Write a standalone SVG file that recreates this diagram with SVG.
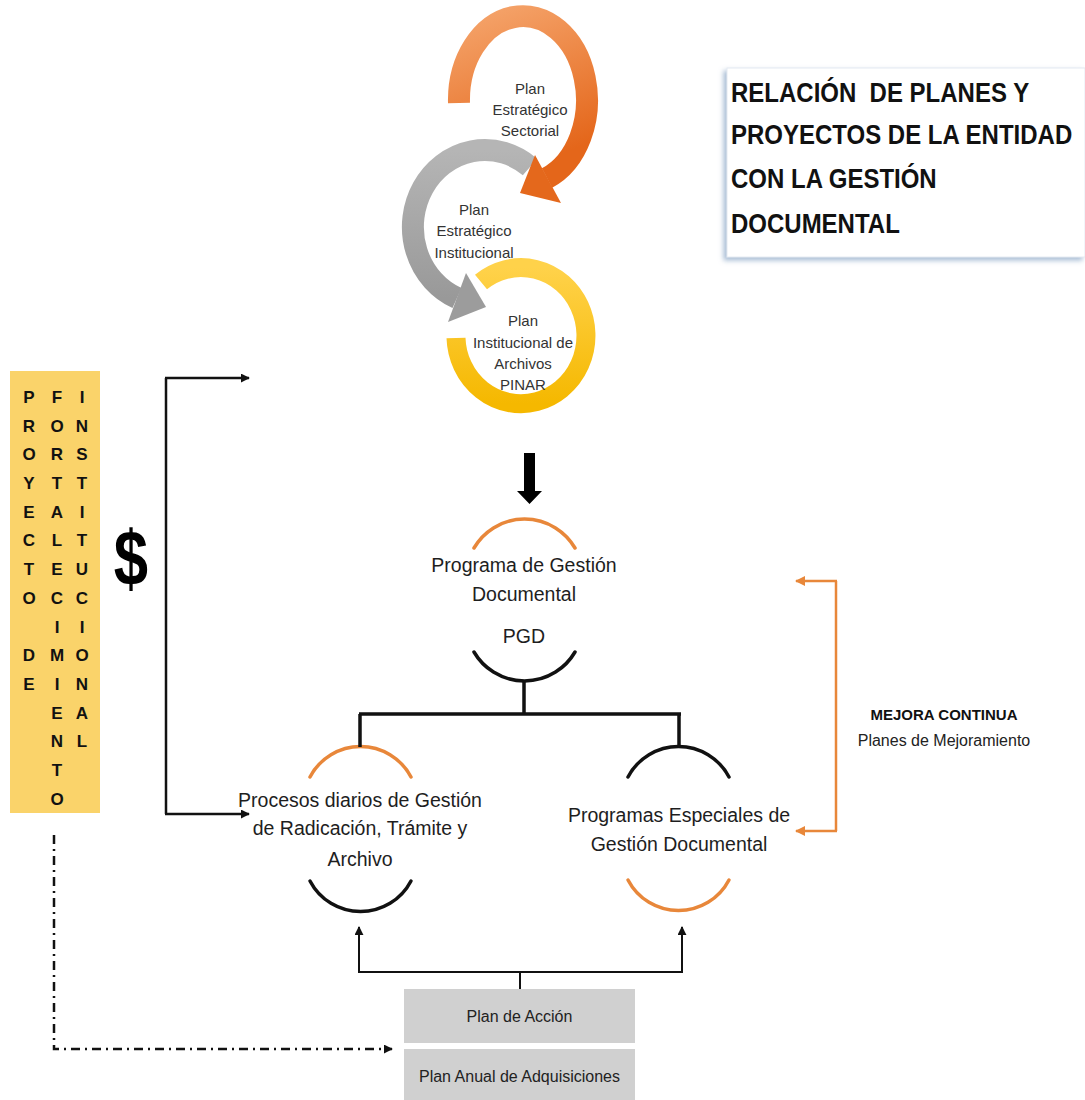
<svg xmlns="http://www.w3.org/2000/svg" width="1085" height="1100" viewBox="0 0 1085 1100">
<defs>
<style>
text{font-family:"Liberation Sans",Arial,sans-serif;fill:#1e1e1e}
.lbl{font-size:19.5px;text-anchor:middle}
.cir{font-size:15px;text-anchor:middle;fill:#333}
.ttl{font-size:24px;font-weight:bold;fill:#111}
.vl{font-size:17px;font-weight:bold;text-anchor:middle;fill:#111}
.box{font-size:16px;text-anchor:middle;fill:#222}
.arcO{fill:none;stroke:#E8873A;stroke-width:3.5;stroke-linecap:round}
.arcK{fill:none;stroke:#111;stroke-width:3.5;stroke-linecap:round}
.ln{fill:none;stroke:#111;stroke-width:3.5}
.thin{fill:none;stroke:#111;stroke-width:2}
.or{fill:none;stroke:#E8873A;stroke-width:2.5}
</style>
<linearGradient id="gO" x1="0" y1="0" x2="0.3" y2="1">
<stop offset="0" stop-color="#F5A46B"/><stop offset="1" stop-color="#E4661A"/>
</linearGradient>
<linearGradient id="gG" x1="0" y1="0" x2="0" y2="1">
<stop offset="0" stop-color="#B5B5B5"/><stop offset="1" stop-color="#999"/>
</linearGradient>
<linearGradient id="gY" x1="0" y1="0" x2="0" y2="1">
<stop offset="0" stop-color="#FFD24A"/><stop offset="1" stop-color="#F5B800"/>
</linearGradient>
<marker id="ak" viewBox="0 0 10 10" refX="9" refY="5" markerWidth="9" markerHeight="9" markerUnits="userSpaceOnUse" orient="auto"><path d="M0,0 L10,5 L0,10 z" fill="#111"/></marker>
<marker id="ao" viewBox="0 0 10 10" refX="9" refY="5" markerWidth="10" markerHeight="10" markerUnits="userSpaceOnUse" orient="auto"><path d="M0,0 L10,5 L0,10 z" fill="#E8873A"/></marker>
<filter id="sh" x="-10%" y="-10%" width="120%" height="120%"><feDropShadow dx="-3" dy="3" stdDeviation="2.5" flood-color="#9FB6D0" flood-opacity="0.9"/></filter>
</defs>
<rect width="1085" height="1100" fill="#fff"/>

<g id="title">
<rect x="727" y="68" width="358" height="189" fill="#fff" stroke="#E4EAF2" stroke-width="1" filter="url(#sh)"/>
<text class="ttl" transform="translate(731,101.5) scale(1,1.12)">RELACIÓN&#160; DE PLANES Y</text>
<text class="ttl" transform="translate(731,143.5) scale(1,1.12)">PROYECTOS DE LA ENTIDAD</text>
<text class="ttl" transform="translate(731,187.5) scale(1,1.12)">CON LA GESTIÓN</text>
<text class="ttl" transform="translate(731,232.5) scale(1,1.12)">DOCUMENTAL</text>
</g>

<g id="pinar">
<path d="M481,282 A65,68 0 1 1 456,338" fill="none" stroke="url(#gY)" stroke-width="19"/>
<text class="cir" x="523" y="326">Plan</text>
<text class="cir" x="523" y="348">Institucional de</text>
<text class="cir" x="523" y="369">Archivos</text>
<text class="cir" x="523" y="390">PINAR</text>
</g>

<g id="pei">
<path d="M530,167 A72,77 0 1 0 457,298" fill="none" stroke="url(#gG)" stroke-width="22"/>
<polygon points="466,273 448,322 486,307" fill="#9c9c9c"/>
<text class="cir" x="474" y="215">Plan</text>
<text class="cir" x="474" y="236">Estratégico</text>
<text class="cir" x="474" y="258">Institucional</text>
</g>

<g id="pes">
<path d="M459,103 A64,84 0 1 1 547,178" fill="none" stroke="url(#gO)" stroke-width="22"/>
<polygon points="535,155 561,203 520,193" fill="#E4681C"/>
<text class="cir" x="530" y="94">Plan</text>
<text class="cir" x="530" y="115">Estratégico</text>
<text class="cir" x="530" y="136">Sectorial</text>
</g>

<g id="bigarrow">
<polygon points="524,453 535,453 535,491 542,491 529.5,504 517,491 524,491" fill="#000"/>
</g>

<g id="pgd">
<path class="arcO" d="M474,548 A58.5,58.5 0 0 1 575,548"/>
<text class="lbl" x="524" y="572">Programa de Gestión</text>
<text class="lbl" x="524" y="601">Documental</text>
<text class="lbl" x="524" y="643">PGD</text>
<path class="arcK" d="M474,652 A58.5,58.5 0 0 0 575,652"/>
</g>

<g id="procesos">
<path class="arcO" d="M310,777 A57,57 0 0 1 411,777"/>
<text class="lbl" x="360" y="807">Procesos diarios de Gestión</text>
<text class="lbl" x="360" y="835">de Radicación, Trámite y</text>
<text class="lbl" x="360" y="866">Archivo</text>
<path class="arcK" d="M310,881 A57,57 0 0 0 411,881"/>
</g>

<g id="especiales">
<path class="arcK" d="M628,777 A57,57 0 0 1 729,777"/>
<text class="lbl" x="679" y="822">Programas Especiales de</text>
<text class="lbl" x="679" y="851">Gestión Documental</text>
<path class="arcO" d="M628,880 A57,57 0 0 0 729,880"/>
</g>

<g id="mejora">
<text x="944" y="720" style="font-size:15px;font-weight:bold;text-anchor:middle;fill:#111">MEJORA CONTINUA</text>
<text x="944" y="746" style="font-size:16px;text-anchor:middle;fill:#222">Planes de Mejoramiento</text>
</g>

<g id="proyecto">
<rect x="10" y="371" width="90" height="442" fill="#FAD36A"/>
<text class="vl"><tspan x="29" y="403">P</tspan><tspan x="29" y="432">R</tspan><tspan x="29" y="460">O</tspan><tspan x="29" y="489">Y</tspan><tspan x="29" y="518">E</tspan><tspan x="29" y="546">C</tspan><tspan x="29" y="575">T</tspan><tspan x="29" y="604">O</tspan><tspan x="29" y="661">D</tspan><tspan x="29" y="690">E</tspan></text>
<text class="vl"><tspan x="57" y="403">F</tspan><tspan x="57" y="432">O</tspan><tspan x="57" y="460">R</tspan><tspan x="57" y="489">T</tspan><tspan x="57" y="518">A</tspan><tspan x="57" y="546">L</tspan><tspan x="57" y="575">E</tspan><tspan x="57" y="604">C</tspan><tspan x="57" y="633">I</tspan><tspan x="57" y="661">M</tspan><tspan x="57" y="690">I</tspan><tspan x="57" y="719">E</tspan><tspan x="57" y="747">N</tspan><tspan x="57" y="776">T</tspan><tspan x="57" y="805">O</tspan></text>
<text class="vl"><tspan x="82" y="403">I</tspan><tspan x="82" y="432">N</tspan><tspan x="82" y="460">S</tspan><tspan x="82" y="489">T</tspan><tspan x="82" y="518">I</tspan><tspan x="82" y="546">T</tspan><tspan x="82" y="575">U</tspan><tspan x="82" y="604">C</tspan><tspan x="82" y="633">I</tspan><tspan x="82" y="661">O</tspan><tspan x="82" y="690">N</tspan><tspan x="82" y="719">A</tspan><tspan x="82" y="747">L</tspan></text>
</g>

<g id="dollar">
<text transform="translate(131,585) scale(0.88,1.12)" x="0" y="0" style="font-size:70px;font-weight:bold;text-anchor:middle;fill:#000">$</text>
</g>

<g id="plan-accion">
<rect x="404" y="989" width="231" height="54" fill="#D0D0D0"/>
<text class="box" x="519.5" y="1021.5">Plan de Acción</text>
</g>
<g id="plan-anual">
<rect x="404" y="1049" width="231" height="51" fill="#D0D0D0"/>
<text class="box" x="519.5" y="1081.5">Plan Anual de Adquisiciones</text>
</g>

<g id="connectors">
<path class="ln" d="M524,680 V714 M359,714 H681 M360,714 V747 M679,714 V747"/>
<path class="thin" d="M520,989 V972 M358,972 H683"/>
<path class="thin" d="M359,972 V927" marker-end="url(#ak)"/>
<path class="thin" d="M682,972 V927" marker-end="url(#ak)"/>
<path d="M166,378 V814" fill="none" stroke="#111" stroke-width="2.5"/>
<path d="M165,378 H249" fill="none" stroke="#111" stroke-width="2.5" marker-end="url(#ak)"/>
<path d="M165,814 H249" fill="none" stroke="#111" stroke-width="2.5" marker-end="url(#ak)"/>
<path class="or" d="M836,581 V831"/>
<path class="or" d="M837,581 H796" marker-end="url(#ao)"/>
<path class="or" d="M837,831 H796" marker-end="url(#ao)"/>
<path d="M54,835 V1049 H392" fill="none" stroke="#111" stroke-width="2.5" stroke-dasharray="9,5,2,5" marker-end="url(#ak)"/>
</g>
</svg>
